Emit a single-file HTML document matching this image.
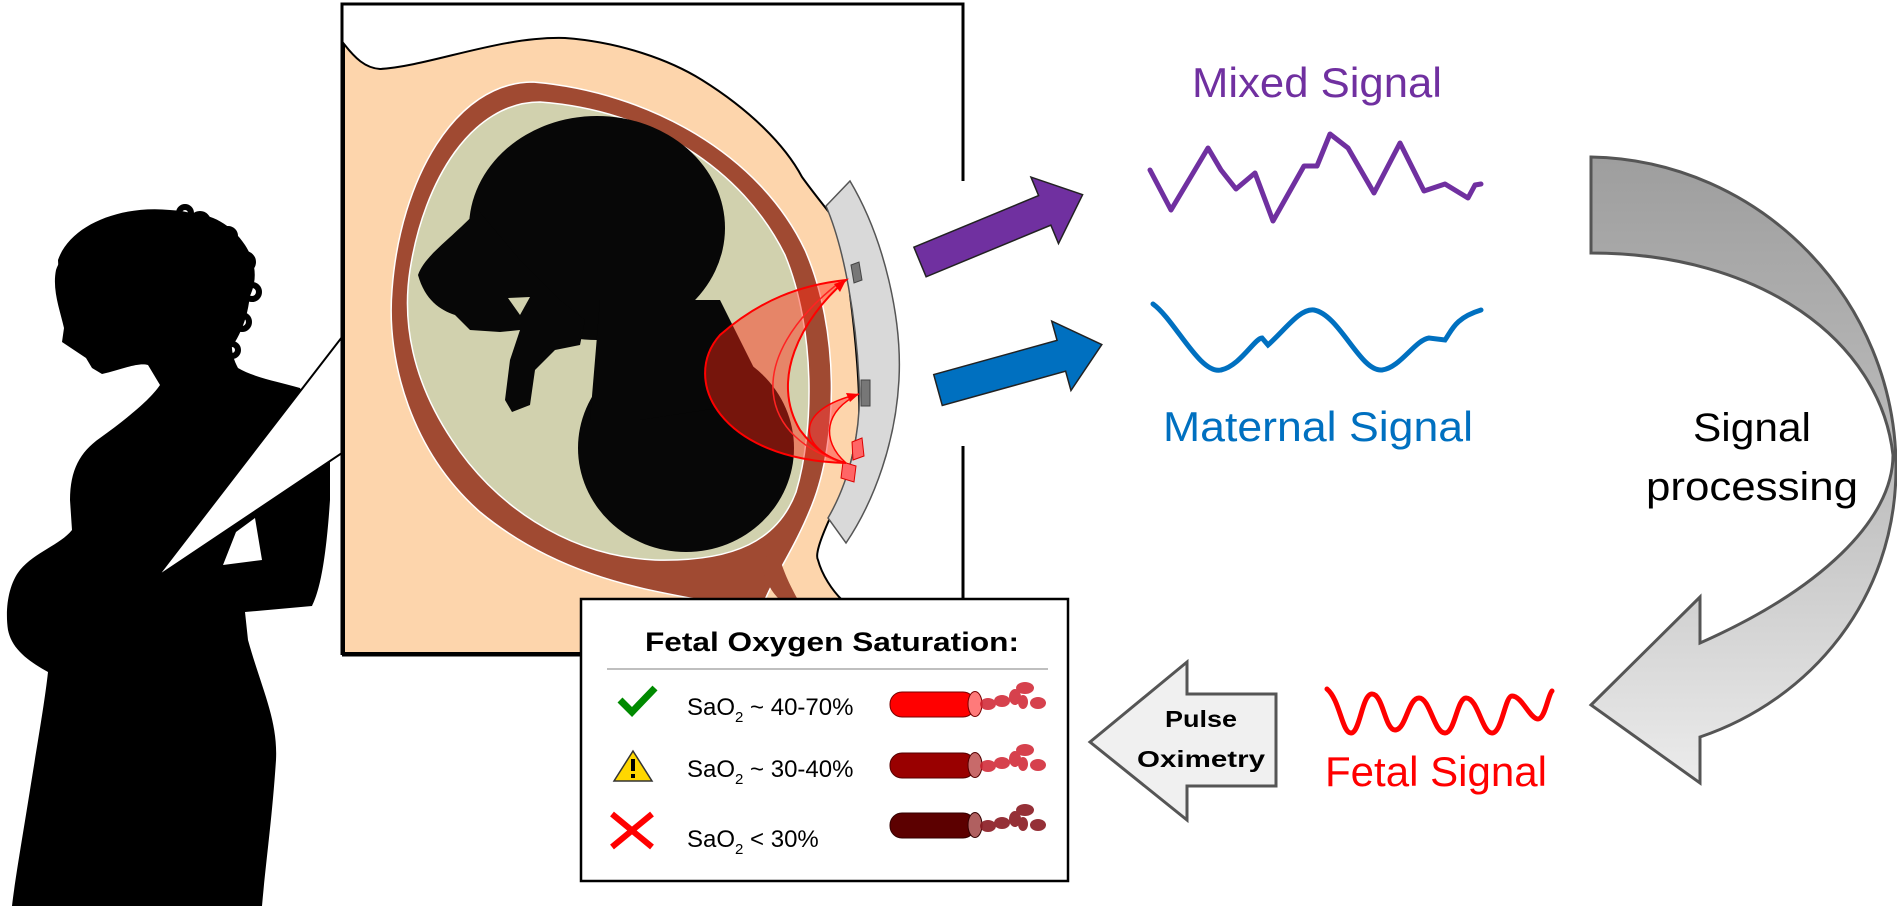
<!DOCTYPE html>
<html><head><meta charset="utf-8"><style>
html,body{margin:0;padding:0;background:#fff;}
svg{display:block;}
text{font-family:"Liberation Sans",sans-serif;}
</style></head><body>
<svg width="1897" height="906" viewBox="0 0 1897 906" xmlns="http://www.w3.org/2000/svg">
<defs>
<linearGradient id="ga" x1="0" y1="0" x2="0" y2="1">
<stop offset="0" stop-color="#9e9e9e"/><stop offset="0.5" stop-color="#bdbdbd"/><stop offset="1" stop-color="#ececec"/>
</linearGradient>
</defs>

<!-- Woman silhouette -->
<path d="M100,237 C80,240 62,252 56,270 C52,290 60,310 64,328 L62,342 L74,350 L86,358 L92,368 L102,374 C120,370 138,362 148,365 L160,385 C150,400 125,420 100,438 C80,452 70,470 70,500 L72,530 C60,545 35,552 20,570 C8,585 5,610 8,630 C12,650 30,662 48,672 C45,700 38,740 30,790 C22,840 15,880 12,906 L262,906 C266,860 272,820 276,760 C278,720 262,690 248,640 L245,612 L312,606 C320,590 326,560 330,500 L330,455 L300,388 C280,382 255,378 238,368 C228,350 230,330 245,305 C258,285 258,265 245,245 C230,222 205,210 180,214 C150,220 125,232 100,237 Z" fill="#000"/>
<path d="M58,260 C70,225 120,205 170,210 C215,212 245,240 250,280 C252,310 240,340 225,355 L150,365 L90,330 L60,300 Z" fill="#000"/>
<g fill="none" stroke="#000" stroke-width="6">
<circle cx="200" cy="222" r="8"/><circle cx="228" cy="236" r="7"/><circle cx="245" cy="262" r="8"/><circle cx="252" cy="292" r="7"/><circle cx="242" cy="322" r="7"/><circle cx="232" cy="350" r="6"/><circle cx="185" cy="213" r="6"/>
</g>
<polygon points="223,565 262,560 255,518 236,532" fill="#fff"/>
<polygon points="342,337 342,453 157,577" fill="#fff" stroke="#000" stroke-width="2"/>

<!-- Frame -->
<polyline points="342,655 342,4 963,4 963,181" fill="none" stroke="#000" stroke-width="3"/>
<line x1="963" y1="446" x2="963" y2="600" stroke="#000" stroke-width="3"/>
<line x1="342" y1="655" x2="585" y2="655" stroke="#000" stroke-width="3"/>

<!-- Peach body -->
<path d="M344,44 C355,58 365,68 380,69 C430,66 500,36 565,38 C620,42 670,60 702,80 C750,110 785,145 802,177 C815,195 826,208 834,219 C845,250 850,275 850,295 C856,340 860,390 859,421 C852,470 840,500 830,518 C820,540 815,555 818,560 C822,575 832,590 842,600 L842,653 L344,653 Z" fill="#fdd5ac" stroke="#000" stroke-width="2"/>

<!-- Uterus wall -->
<path d="M533,82 C650,92 760,155 805,250 C840,330 838,440 812,505 C795,548 775,575 765,600 L700,600 C650,590 560,578 480,512 C412,452 386,362 392,290 C400,180 455,82 533,82 Z" fill="#a04a32" stroke="#fff" stroke-width="1.5"/>
<path d="M760,560 C765,580 770,590 780,600 L798,600 C790,585 782,570 778,550 Z" fill="#a04a32"/>
<path d="M540,102 C650,110 742,168 785,255 C816,330 814,432 796,492 C778,540 735,562 655,560 C565,556 492,502 452,440 C412,380 402,322 410,270 C424,180 472,102 540,102 Z" fill="#d1d1ae" stroke="#fff" stroke-width="1.5"/>

<!-- Fetus -->
<ellipse cx="597" cy="228" rx="128" ry="112" fill="#070707"/>
<ellipse cx="686" cy="448" rx="108" ry="104" fill="#070707"/>
<path d="M600,300 L720,300 L770,400 L640,420 L590,420 Z" fill="#070707"/>
<path d="M478,210 C450,240 425,255 418,275 C425,300 440,310 455,315 L470,330 L500,332 L520,330 L510,360 L505,400 L512,412 L530,405 L535,370 L555,350 L580,345 L585,320 L560,300 L520,260 Z" fill="#070707"/>
<polygon points="508,298 530,297 520,315" fill="#d1d1ae"/>

<!-- Sensor band -->
<path d="M850,181 C885,240 902,320 899,379 C896,440 875,500 846,543 L828,518 C850,480 862,430 859,379 C856,320 845,250 826,206 Z" fill="#d9d9d9" stroke="#555" stroke-width="1.5"/>
<polygon points="851,265 859,262 862,280 854,283" fill="#777" stroke="#444"/>
<rect x="861" y="380" width="9" height="26" fill="#777" stroke="#444"/>
<polygon points="852,442 862,438 864,456 853,460" fill="#f66" stroke="#d00"/>
<polygon points="843,462 856,466 854,482 841,478" fill="#f66" stroke="#d00"/>

<!-- Red beams -->
<path d="M846,463 C720,460 680,380 720,335 C760,300 800,285 846,280 C800,320 770,380 800,430 C815,450 830,460 846,463 Z" fill="rgba(255,40,20,0.45)" stroke="#f00" stroke-width="2"/>
<path d="M846,463 C760,440 740,360 840,282" fill="none" stroke="#f22" stroke-width="1.5"/>
<path d="M846,463 C800,450 790,410 859,394 C825,410 820,440 846,463 Z" fill="rgba(255,60,60,0.5)" stroke="#f00" stroke-width="1.5"/>
<polygon points="846,280 834,284 840,292" fill="#f00"/>
<polygon points="859,394 846,393 850,402" fill="#f00"/>

<!-- Arrows -->
<g transform="translate(920,262) rotate(-22.5)">
<polygon points="0,-16 135,-16 135,-36 176,0 135,36 135,16 0,16" fill="#7030a0" stroke="#222" stroke-width="1.5"/>
</g>
<g transform="translate(938,390) rotate(-15.5)">
<polygon points="0,-16 128,-16 128,-36 170,0 128,36 128,16 0,16" fill="#0070c0" stroke="#222" stroke-width="1.5"/>
</g>

<!-- Signals -->
<text x="1317" y="97" font-size="42" fill="#7030a0" text-anchor="middle" textLength="250" lengthAdjust="spacingAndGlyphs">Mixed Signal</text>
<polyline points="1150,170 1171,210 1208,148 1221,170 1236,189 1255,173 1273,221 1304,166 1317,166 1330,134 1348,148 1374,193 1400,143 1424,191 1445,184 1468,198 1475,185 1481,184" fill="none" stroke="#7030a0" stroke-width="5" stroke-linejoin="round" stroke-linecap="round"/>
<path d="M1153,304 C1175,320 1200,375 1221,370 C1240,366 1255,338 1262,338 L1268,345 C1285,330 1300,308 1314,310 C1340,315 1360,372 1382,370 C1400,368 1415,340 1429,338 L1445,340 C1452,330 1455,318 1481,310" fill="none" stroke="#0070c0" stroke-width="5" stroke-linecap="round"/>
<text x="1318" y="441" font-size="42" fill="#0070c0" text-anchor="middle" textLength="310" lengthAdjust="spacingAndGlyphs">Maternal Signal</text>
<path d="M1327,689 C1340,700 1342,733 1351,733 C1360,733 1362,694 1372,694 C1383,694 1385,730 1395,730 C1406,730 1408,698 1419,698 C1430,698 1434,733 1445,733 C1455,733 1457,698 1466,698 C1478,698 1482,733 1492,733 C1502,733 1505,696 1512,696 C1522,696 1530,719 1538,719 C1545,719 1548,695 1552,691" fill="none" stroke="#f00" stroke-width="5" stroke-linecap="round"/>
<text x="1436" y="786" font-size="42" fill="#f00" text-anchor="middle" textLength="222" lengthAdjust="spacingAndGlyphs">Fetal Signal</text>

<!-- Curved gray arrow -->
<path d="M1591,157 C1760,160 1897,300 1896,470 C1895,600 1810,700 1700,737 L1700,783 L1591,705 L1700,597 L1700,643 C1820,590 1893,520 1893,455 C1880,340 1760,253 1591,253 Z" fill="url(#ga)" stroke="#555" stroke-width="3" stroke-linejoin="miter"/>
<text x="1752" y="441" font-size="40" fill="#000" text-anchor="middle" textLength="118" lengthAdjust="spacingAndGlyphs">Signal</text>
<text x="1752" y="500" font-size="40" fill="#000" text-anchor="middle" textLength="212" lengthAdjust="spacingAndGlyphs">processing</text>

<!-- Pulse oximetry arrow -->
<polygon points="1090,742 1187,662 1187,694 1276,694 1276,786 1187,786 1187,820" fill="#f0f0f0" stroke="#555" stroke-width="3"/>
<text x="1201" y="727" font-size="23" font-weight="bold" fill="#000" text-anchor="middle" textLength="72" lengthAdjust="spacingAndGlyphs">Pulse</text>
<text x="1201" y="767" font-size="23" font-weight="bold" fill="#000" text-anchor="middle" textLength="128" lengthAdjust="spacingAndGlyphs">Oximetry</text>

<!-- Legend -->
<rect x="581" y="599" width="487" height="282" fill="#fff" stroke="#000" stroke-width="2.5"/>
<text x="832" y="651" font-size="27" font-weight="bold" fill="#000" text-anchor="middle" textLength="374" lengthAdjust="spacingAndGlyphs">Fetal Oxygen Saturation:</text>
<line x1="607" y1="669" x2="1048" y2="669" stroke="#aaa" stroke-width="1.5"/>
<polyline points="620,700 632,712 655,688" fill="none" stroke="#008a00" stroke-width="7"/>
<polygon points="633,751 614,781 652,781" fill="#ffd700" stroke="#333" stroke-width="1.5"/>
<rect x="631" y="759" width="4" height="12" fill="#000"/><rect x="631" y="774" width="4" height="4" fill="#000"/>
<g stroke="#f00" stroke-width="6"><line x1="612" y1="814" x2="652" y2="847"/><line x1="652" y1="814" x2="612" y2="847"/></g>
<g font-size="24" fill="#000">
<text x="687" y="715">SaO<tspan font-size="15" dy="7">2</tspan><tspan dy="-7"> ~ 40-70%</tspan></text>
<text x="687" y="777">SaO<tspan font-size="15" dy="7">2</tspan><tspan dy="-7"> ~ 30-40%</tspan></text>
<text x="687" y="847">SaO<tspan font-size="15" dy="7">2</tspan><tspan dy="-7"> &lt; 30%</tspan></text>
</g>
<g>
<rect x="890" y="692" width="85" height="25" rx="12" fill="#f00" stroke="#700"/><ellipse cx="975" cy="704" rx="7" ry="12.5" fill="#ff7a7a" stroke="#700"/>
<rect x="890" y="753" width="85" height="25" rx="12" fill="#990000" stroke="#500"/><ellipse cx="975" cy="765" rx="7" ry="12.5" fill="#c86a6a" stroke="#500"/>
<rect x="890" y="813" width="85" height="25" rx="12" fill="#5c0000" stroke="#300"/><ellipse cx="975" cy="825" rx="7" ry="12.5" fill="#b06060" stroke="#300"/>
</g>
<g fill="#d0202f" opacity="0.85">
<ellipse cx="988" cy="704" rx="8" ry="6"/><ellipse cx="1002" cy="701" rx="8" ry="6"/><ellipse cx="1015" cy="697" rx="6" ry="8"/><ellipse cx="1025" cy="688" rx="9" ry="6"/><ellipse cx="1023" cy="702" rx="5" ry="7"/><ellipse cx="1038" cy="703" rx="8" ry="6"/>
<ellipse cx="988" cy="766" rx="8" ry="6"/><ellipse cx="1002" cy="763" rx="8" ry="6"/><ellipse cx="1015" cy="759" rx="6" ry="8"/><ellipse cx="1025" cy="750" rx="9" ry="6"/><ellipse cx="1023" cy="764" rx="5" ry="7"/><ellipse cx="1038" cy="765" rx="8" ry="6"/>
</g>
<g fill="#8a1a22" opacity="0.9">
<ellipse cx="988" cy="826" rx="8" ry="6"/><ellipse cx="1002" cy="823" rx="8" ry="6"/><ellipse cx="1015" cy="819" rx="6" ry="8"/><ellipse cx="1025" cy="810" rx="9" ry="6"/><ellipse cx="1023" cy="824" rx="5" ry="7"/><ellipse cx="1038" cy="825" rx="8" ry="6"/>
</g>
</svg>
</body></html>
